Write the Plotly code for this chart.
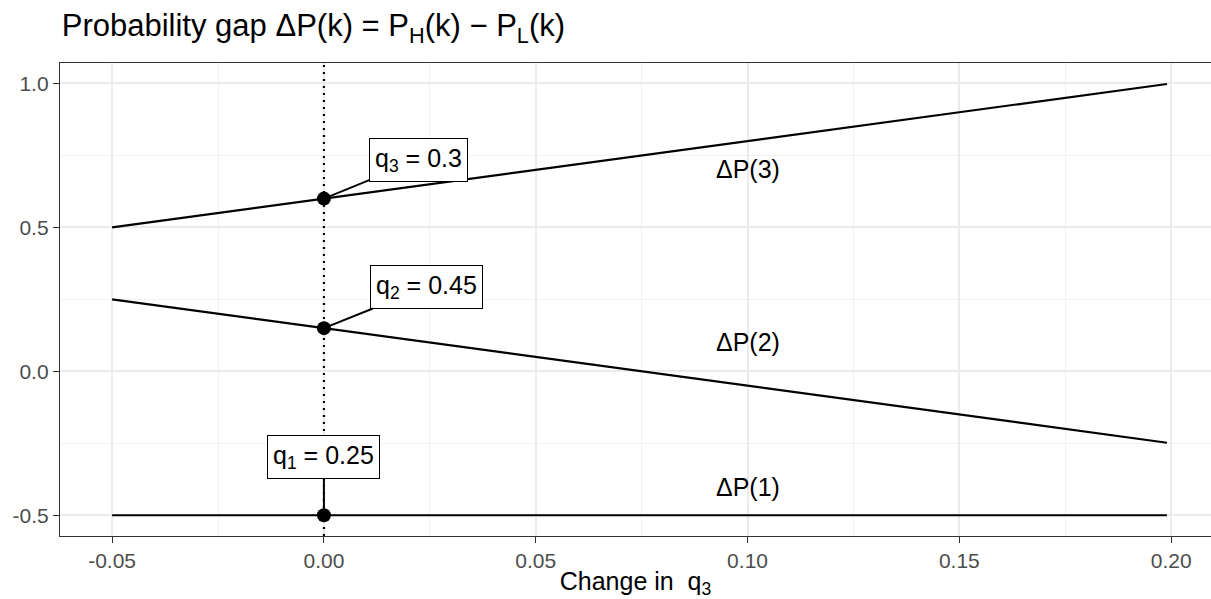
import plotly.graph_objects as go

# values
q3_change = [-0.05, 0.0, 0.199]
gap_1 = [-0.5, -0.5, -0.5]
gap_2 = [0.25, 0.15, -0.248]
gap_3 = [0.5, 0.6, 0.998]

point_x = [0.0, 0.0, 0.0]
point_y = [-0.5, 0.15, 0.6]
point_labels = ["q<sub>1</sub> = 0.25", "q<sub>2</sub> = 0.45", "q<sub>3</sub> = 0.3"]
label_x = [0.0, 0.0242, 0.0224]
label_y = [-0.299, 0.293, 0.734]

curve_names = ["ΔP(1)", "ΔP(2)", "ΔP(3)"]
curve_label_x = [0.1, 0.1, 0.1]
curve_label_y = [-0.402, 0.102, 0.702]

FONT = "Liberation Sans, Arial, sans-serif"

fig = go.Figure()

for ys in [gap_3, gap_2, gap_1]:
    fig.add_trace(go.Scatter(x=q3_change, y=ys, mode="lines",
                             line=dict(color="black", width=2.2),
                             showlegend=False, hoverinfo="skip"))

# dotted reference line at zero change
fig.add_vline(x=0, line=dict(color="black", width=2.2, dash="2px,5px"))

fig.add_trace(go.Scatter(x=point_x, y=point_y, mode="markers",
                         marker=dict(color="black", size=14),
                         showlegend=False, hoverinfo="skip"))

# boxed labels with leader segments
for px_, py_, lx, ly, txt in zip(point_x, point_y, label_x, label_y, point_labels):
    fig.add_annotation(x=px_, y=py_, ax=lx, ay=ly, axref="x", ayref="y",
                       text=txt, showarrow=True, arrowhead=0, arrowwidth=2,
                       arrowcolor="black", standoff=0,
                       font=dict(family=FONT, size=25, color="black"),
                       bgcolor="white", bordercolor="black", borderwidth=1,
                       borderpad=5)

for lx, ly, txt in zip(curve_label_x, curve_label_y, curve_names):
    fig.add_annotation(x=lx, y=ly, text=txt, showarrow=False,
                       font=dict(family=FONT, size=25, color="black"))

axis_common = dict(
    showline=True, linecolor="#333333", linewidth=1.3,
    ticks="outside", ticklen=6, tickwidth=1.4, tickcolor="#333333",
    tickfont=dict(family=FONT, size=21, color="#4D4D4D"),
    showgrid=True, gridcolor="#EBEBEB", gridwidth=1.5, zeroline=False,
    automargin=False,
)

fig.update_xaxes(range=[-0.0623, 0.2094], tickvals=[-0.05, 0, 0.05, 0.1, 0.15, 0.2],
                 ticktext=["-0.05", "0.00", "0.05", "0.10", "0.15", "0.20"],
                 mirror=True,
                 minor=dict(dtick=0.025, tick0=-0.025, showgrid=True,
                            gridcolor="#F2F2F2", gridwidth=0.8),
                 title=dict(text="Change in\u00a0 q<sub>3</sub>", standoff=7,
                            font=dict(family=FONT, size=25, color="black")),
                 **axis_common)
fig.update_yaxes(range=[-0.572, 1.071], tickvals=[-0.5, 0, 0.5, 1.0],
                 ticktext=["-0.5", "0.0", "0.5", "1.0"],
                 minor=dict(dtick=0.25, tick0=-0.25, showgrid=True,
                            gridcolor="#F2F2F2", gridwidth=0.8),
                 **axis_common)

fig.update_layout(
    width=1211, height=599,
    margin=dict(l=60, r=0, t=63, b=63),
    plot_bgcolor="white", paper_bgcolor="white",
    title=dict(text="Probability gap ΔP(k) = P<sub>H</sub>(k) − P<sub>L</sub>(k)",
               x=0.051, xanchor="left", y=0.958, yanchor="middle",
               automargin=False,
               font=dict(family=FONT, size=31, color="black")),
)

# drop the default page margin so the figure sits at the window corner
fig.write_html("out.html", config={"displayModeBar": False},
               post_script="document.body.style.margin='0px';")
